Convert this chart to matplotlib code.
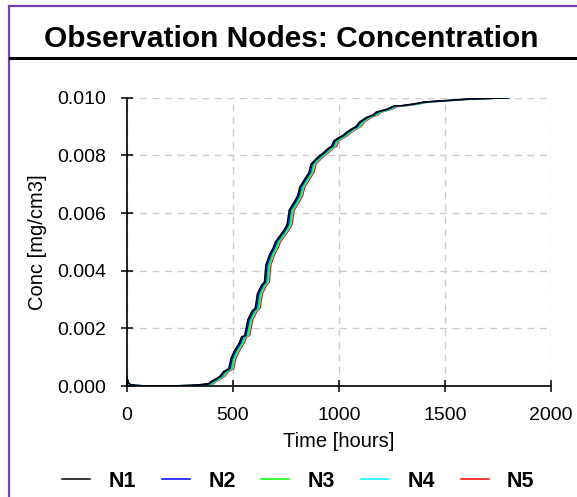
import numpy as np
import matplotlib
matplotlib.use("Agg")
import matplotlib.pyplot as plt
from matplotlib.lines import Line2D
from matplotlib.ticker import FormatStrFormatter

plt.rcParams['font.family'] = ['Liberation Sans', 'DejaVu Sans']

# breakthrough curve of node N1 (hours, mg/cm3)
time_h = [0, 5, 15, 40, 100, 200, 300, 350, 385, 395, 420, 440, 455, 480,
          490, 505, 530, 540, 555, 570, 590, 605, 615, 635, 648, 655, 675,
          690, 700, 720, 740, 755, 765, 790, 805, 815, 840, 858, 868, 895,
          910, 920, 950, 965, 975, 1000, 1020, 1035, 1060, 1080, 1095, 1130,
          1160, 1175, 1200, 1225, 1240, 1260, 1290, 1350, 1400, 1500, 1600,
          1800]
conc = [0.00030, 0.00012, 0.00005, 0.00002, 0.0, 0.0, 0.00002, 0.00005,
        0.00008, 0.00015, 0.00025, 0.00035, 0.00050, 0.00060, 0.00095,
        0.00120, 0.00150, 0.00170, 0.00175, 0.00230, 0.00260, 0.00270,
        0.00320, 0.00350, 0.00360, 0.00420, 0.00460, 0.00480, 0.00500,
        0.00520, 0.00540, 0.00560, 0.00610, 0.00640, 0.00660, 0.00690,
        0.00720, 0.00740, 0.00770, 0.00790, 0.00800, 0.00805, 0.00825,
        0.00832, 0.00850, 0.00862, 0.00870, 0.00880, 0.00892, 0.00900,
        0.00915, 0.00932, 0.00940, 0.00950, 0.00955, 0.00960, 0.00965,
        0.00972, 0.00972, 0.00978, 0.00985, 0.00990, 0.00995, 0.01000]

nodes = ['N1', 'N2', 'N3', 'N4', 'N5']
colors = ['black', 'blue', '#00ff00', 'cyan', 'red']
lag_h = [0, 6, 13, 18, 23]   # arrival delay of each node behind N1

t = np.array(time_h, dtype=float)
c = np.array(conc)

fig = plt.figure(figsize=(5.77, 4.97), dpi=100)
ax = fig.add_axes([0.2201, 0.2233, 0.735, 0.5801])

handles = []
for name, col, lag in reversed(list(zip(nodes, colors, lag_h))):
    tt = np.where(t > 300, np.minimum(t + lag, 1800), t)
    ln, = ax.plot(tt, c, color=col, lw=1.1, label=name)
    handles.append(ln)
handles = handles[::-1]

ax.set_xlim(0, 2000)
ax.set_ylim(0, 0.010)
ax.set_xticks([0, 500, 1000, 1500, 2000])
ax.set_yticks([0, 0.002, 0.004, 0.006, 0.008, 0.010])
ax.yaxis.set_major_formatter(FormatStrFormatter('%.3f'))
ax.grid(True, color='#cccccc', ls=(0, (5, 4)), lw=1.0)
ax.set_axisbelow(True)
for s in ['top', 'right']:
    ax.spines[s].set_visible(False)
for s in ['left', 'bottom']:
    ax.spines[s].set_linewidth(1.2)
ax.tick_params(direction='inout', length=8, width=1.1, labelsize=14, pad=11)
ax.set_xlabel('Time [hours]', fontsize=14.5, labelpad=6)
ax.set_ylabel('Conc [mg/cm3]', fontsize=14.5, labelpad=7)

fig.text(0.505, 0.922, 'Observation Nodes: Concentration', ha='center',
         va='center', fontsize=21.5, fontweight='bold')

# frame pieces
H, W = 497.0, 577.0
fig.add_artist(Line2D([9 / W, 1], [1 - 6 / H, 1 - 6 / H], color='#7b40b8', lw=1.6))
fig.add_artist(Line2D([9 / W, 9 / W], [0, 1 - 6 / H], color='#7b40b8', lw=1.6))
fig.add_artist(Line2D([10 / W, 1], [1 - 58 / H, 1 - 58 / H], color='black', lw=2.2))

fig.legend(handles, nodes, loc='center', bbox_to_anchor=(0.517, 0.032), ncol=5,
           frameon=False, handlelength=1.3, handletextpad=0.85,
           columnspacing=1.2, prop={'weight': 'bold', 'size': 15.5})

fig.savefig('out.png', dpi=100)
